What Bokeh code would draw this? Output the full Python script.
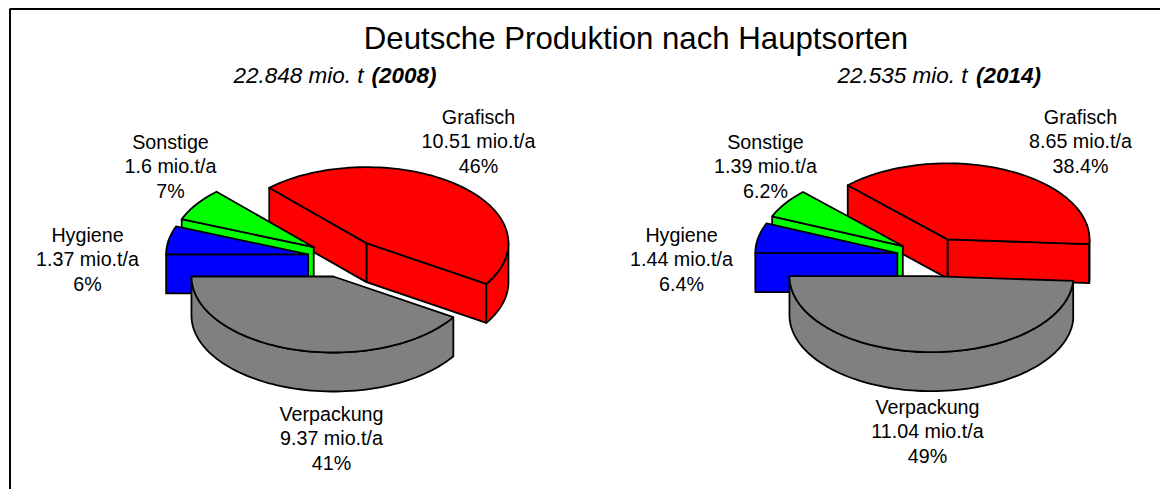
import math
from bokeh.plotting import figure
from bokeh.models import Range1d
from bokeh.core.properties import value
from bokeh.embed import file_html
from bokeh.resources import INLINE

TITLE = "Deutsche Produktion nach Hauptsorten"
CATEGORIES = ["Verpackung", "Grafisch", "Sonstige", "Hygiene"]
COLORS = ["#808080", "#ff0000", "#00ff00", "#0000ff"]

TONS_2008 = ["9.37", "10.51", "1.6", "1.37"]
SHARE_2008 = [41, 46, 7, 6]
PCT_2008 = ["41%", "46%", "7%", "6%"]
SUB_2008 = ("22.848 mio. t ", "(2008)")

TONS_2014 = ["11.04", "8.65", "1.39", "1.44"]
SHARE_2014 = [49, 38.4, 6.2, 6.4]
PCT_2014 = ["49%", "38.4%", "6.2%", "6.4%"]
SUB_2014 = ("22.535 mio. t ", "(2014)")

FONT = "Liberation Sans"
RX, RY, DEPTH, EXPLODE = 142, 76, 39, 36

p = figure(width=1160, height=489, output_backend="svg", toolbar_location=None,
           x_range=Range1d(0, 1160), y_range=Range1d(489, 0),
           min_border=0, outline_line_color=None, background_fill_color="white",
           border_fill_color="white")
p.xaxis.visible = False
p.yaxis.visible = False
p.grid.visible = False


def arc(cx, cy, a0, a1, dz=0):
    n = max(2, int(abs(a1 - a0) / 2) + 1)
    return [(cx + RX * math.cos(math.radians(a0 + (a1 - a0) * i / (n - 1))),
             cy - RY * math.sin(math.radians(a0 + (a1 - a0) * i / (n - 1))) + dz)
            for i in range(n)]


def poly(pts, color):
    p.patch([q[0] for q in pts], [q[1] for q in pts], fill_color=color,
            line_color="black", line_width=1.8, line_join="round")


def pie(cx0, cy0, shares):
    # slices run anticlockwise from 180 degrees; the first one is the front slice
    spans = []
    a = 180.0
    for s in shares:
        b = a + s * 3.6
        spans.append((a, b))
        a = b
    for i in [1, 2, 3, 0]:  # back to front
        a0, a1 = spans[i]
        if i != 0:
            a0, a1 = a0 - 360, a1 - 360
        mid = math.radians((a0 + a1) / 2)
        cx = cx0 + EXPLODE * math.cos(mid)
        cy = cy0 - EXPLODE * RY / RX * math.sin(mid)
        for ang, normal in ((a0, a0 - 90), (a1, a1 + 90)):
            if math.sin(math.radians(normal)) < 0:
                o = arc(cx, cy, ang, ang)[0]
                poly([(cx, cy), o, (o[0], o[1] + DEPTH), (cx, cy + DEPTH)], COLORS[i])
        if a0 >= 180:
            lo, hi = a0, min(a1, 360)
        else:
            lo, hi = max(a0, -180), min(a1, 0)
        if hi > lo:
            poly(arc(cx, cy, lo, hi) + arc(cx, cy, hi, lo, DEPTH), COLORS[i])
        poly([(cx, cy)] + arc(cx, cy, a0, a1), COLORS[i])


pie(343, 257.5, SHARE_2008)
pie(932.1, 256.4, SHARE_2014)


def txt(x, y, s, size, style="normal", align="center"):
    p.text([x], [y], text=[s], text_font=value(FONT), text_font_size=size,
           text_font_style=style, text_align=align, text_baseline="middle",
           text_color="black")


txt(635.5, 38, TITLE, "31.2px")
txt(233, 75, SUB_2008[0], "22.5px", "italic", "left")
txt(436, 75, SUB_2008[1], "22.5px", "bold italic", "right")
txt(837, 75, SUB_2014[0], "22.5px", "italic", "left")
txt(1040.5, 75, SUB_2014[1], "22.5px", "bold italic", "right")


def label(x, ys, name, tons, pct):
    for y, s in zip(ys, (name, tons + " mio.t/a", pct)):
        txt(x, y, s, "19.7px")


POS_2008 = [(331, 413), (478, 116), (170, 141), (87, 234)]
POS_2014 = [(927, 406), (1080, 116), (765, 141), (681, 234)]
for (pos, tons, pct) in ((POS_2008, TONS_2008, PCT_2008), (POS_2014, TONS_2014, PCT_2014)):
    for (x, y), c, t, q in zip(pos, CATEGORIES, tons, pct):
        label(x, (y, y + 24.5, y + 49), c, t, q)

# chart frame
p.line([9.5, 9.5, 1160], [489, 8.5, 8.5], line_color="black", line_width=2)

open("out.html", "w").write(file_html(p, INLINE))
